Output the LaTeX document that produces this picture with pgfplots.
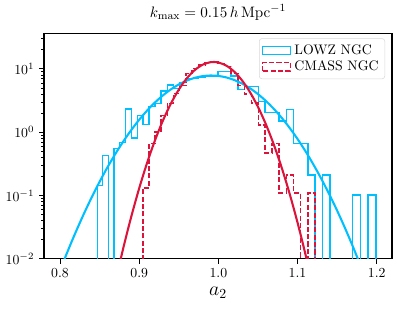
\documentclass[border=0pt]{standalone}
\usepackage{pgfplots}
\pgfplotsset{compat=1.18}
\definecolor{lowz}{RGB}{0,191,255}
\definecolor{cmass}{RGB}{220,20,60}
\begin{document}
\begin{tikzpicture}
\begin{semilogyaxis}[
  at={(0,0)}, anchor=south west,
  scale only axis, width=251.2bp, height=162.4bp,
  xmin=0.7798, xmax=1.2193, ymin=0.01, ymax=35.9,
  xtick={0.8,0.9,1.0,1.1,1.2},
  xticklabel style={/pgf/number format/.cd, fixed, fixed zerofill, precision=1},
  tick align=outside, tick pos=left,
  major tick length=3.5bp, minor tick length=2bp,
  every tick/.style={black, line width=0.6bp},
  axis line style={line width=0.8bp},
  title={$k_{\max} = 0.15\,h\,\mathrm{Mpc}^{-1}$},
  title style={font=\fontsize{11}{13}\selectfont},
  xlabel={$a_2$}, xlabel style={font=\Large},
  legend style={at={(0.98,0.98)}, anchor=north east, draw=black!15, rounded corners=2pt,
    fill=white, fill opacity=0.8, text opacity=1, row sep=-2pt, inner sep=2pt,
    nodes={inner sep=2.5pt}},
  legend cell align=left,
  legend image code/.code={\draw[#1, sharp corners, line width=1bp] (0pt,-3pt) rectangle (20pt,3pt);},
]
\addplot[lowz, line width=1bp, const plot mark left] coordinates {
(0.8470,1e-4) (0.8470,0.143) (0.8540,0.424) (0.8611,1e-4) (0.8683,0.556) (0.8755,0.685) (0.8828,2.33) (0.8901,0.81) (0.8975,1.83) (0.9049,1.31) (0.9125,2.55) (0.9201,2.87) (0.9277,4.5) (0.9354,5.6) (0.9432,4.95) (0.9510,6.1) (0.9589,7.0) (0.9669,7.1) (0.9749,7.3) (0.9830,7.77) (0.9912,7.77) (0.9994,9.08) (1.0078,9.08) (1.0161,7.77) (1.0246,4.7) (1.0331,5.3) (1.0417,5.3) (1.0503,3.05) (1.0591,2.04) (1.0679,2.04) (1.0767,1.51) (1.0857,2.26) (1.0947,0.66) (1.1038,0.66) (1.1130,0.21) (1.1222,1e-4) (1.1316,0.21) (1.1410,1e-4) (1.1504,1e-4) (1.1600,1e-4) (1.1696,0.102) (1.1794,1e-4) (1.1892,0.102) (1.1990,1e-4)
};
\addlegendentry{LOWZ NGC}
\addplot[cmass, line width=1bp, dash pattern=on 3.7bp off 1.6bp, const plot mark left] coordinates {
(0.9049,1e-4) (0.9049,0.132) (0.9125,0.66) (0.9201,1.0) (0.9277,1.83) (0.9354,2.87) (0.9432,4.1) (0.9510,5.5) (0.9589,8.5) (0.9669,10.2) (0.9749,11.5) (0.9830,12.5) (0.9912,13.0) (0.9994,12.3) (1.0078,11.0) (1.0161,8.5) (1.0246,5.5) (1.0331,4.0) (1.0417,2.9) (1.0503,1.3) (1.0591,0.47) (1.0679,0.67) (1.0767,0.11) (1.0857,0.21) (1.0947,0.11) (1.1038,1e-4) (1.1130,0.11) (1.1222,1e-4)
};
\addlegendentry{CMASS NGC}
\addplot[lowz, line width=1.5bp, smooth, forget plot] coordinates {
(0.80,0.00652) (0.81,0.01343) (0.82,0.02664) (0.83,0.05083) (0.84,0.0933) (0.85,0.1646) (0.86,0.2795) (0.87,0.4562) (0.88,0.7163) (0.89,1.082) (0.90,1.572) (0.91,2.196) (0.92,2.952) (0.93,3.816) (0.94,4.746) (0.95,5.675) (0.96,6.528) (0.97,7.223) (0.98,7.687) (0.99,7.868) (1.00,7.747) (1.01,7.336) (1.02,6.682) (1.03,5.855) (1.04,4.934) (1.05,3.999) (1.06,3.117) (1.07,2.337) (1.08,1.686) (1.09,1.170) (1.10,0.7805) (1.11,0.5008) (1.12,0.3091) (1.13,0.1835) (1.14,0.1048) (1.15,0.05759) (1.16,0.03042) (1.17,0.01547) (1.18,0.00756)
};
\addplot[cmass, line width=1.5bp, smooth, forget plot] coordinates {
(0.87,0.00432) (0.88,0.0149) (0.89,0.04628) (0.90,0.1297) (0.91,0.3277) (0.92,0.7452) (0.93,1.528) (0.94,2.823) (0.95,4.700) (0.96,7.053) (0.97,9.537) (0.98,11.62) (0.99,12.76) (0.995,12.87) (1.00,12.63) (1.01,11.27) (1.02,9.054) (1.03,6.557) (1.04,4.280) (1.05,2.517) (1.06,1.335) (1.07,0.6376) (1.08,0.2744) (1.09,0.1065) (1.10,0.03722) (1.11,0.01173) (1.12,0.00333)
};
\end{semilogyaxis}
\useasboundingbox (-31.76bp,-37.53bp) rectangle (256.24bp,181.89bp);
\end{tikzpicture}
\end{document}
